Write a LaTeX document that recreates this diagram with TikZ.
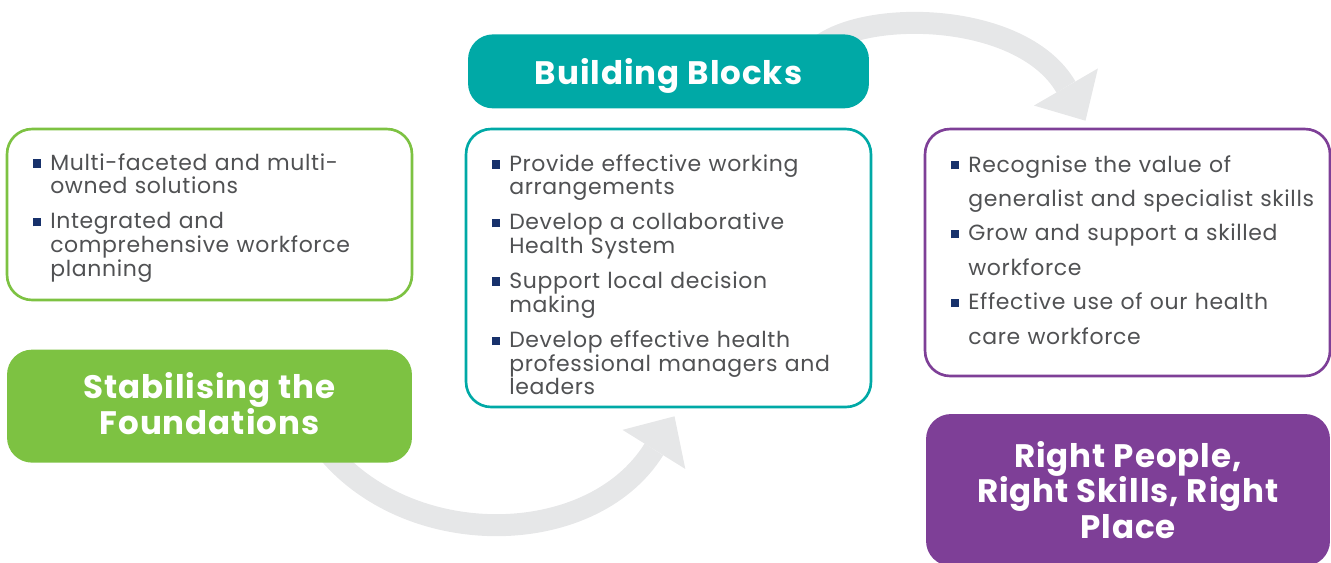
\documentclass[tikz,border=0pt]{standalone}
\usepackage{fontspec}
\setmainfont{Poppins}
\usetikzlibrary{arrows.meta, calc, positioning, backgrounds}
\definecolor{fgreen}{HTML}{7DC242}
\definecolor{bteal}{HTML}{00A9A6}
\definecolor{rpurple}{HTML}{7E3F97}
\definecolor{arrowgray}{HTML}{E6E7E8}
\definecolor{textgray}{HTML}{505153}
\definecolor{bulletblue}{HTML}{17316B}
\newcommand{\sq}{\textcolor{bulletblue}{\rule[1.5pt]{4.8pt}{4.8pt}}}
\tikzstyle{listbox} = [rectangle, rounded corners=0.5cm, line width=1.5pt, fill=white, minimum width=8.1cm, text width=7.06cm, inner xsep=0.52cm, align=left, text=textgray, font=\fontsize{12.5}{13}\selectfont\addfontfeature{LetterSpace=3}]
\tikzstyle{headbox} = [rectangle, rounded corners=0.5cm, text=white, align=center, font=\bfseries\fontsize{18.5}{20.4}\selectfont\addfontfeature{LetterSpace=3}]
\tikzstyle{arrow} = [arrowgray, line width=0.44cm, -{Triangle[width=1.48cm, length=0.78cm, line width=0pt]}]

\begin{document}
\begin{tikzpicture}[x=0.02cm, y=-0.02cm]
    \useasboundingbox (0,0) rectangle (1331,562);
    \clip (0,0) rectangle (1331,562);

    \node (foundlist) [listbox, draw=fgreen, minimum height=3.42cm] at (209.5,214.5) {%
      \vspace*{-0.15cm}\noindent
      \begin{tabular}{@{}l@{\hspace{5pt}}l@{}}
      \sq & Multi-faceted and multi-\\
          & owned solutions\\[6.8pt]
      \sq & Integrated and\\
          & comprehensive workforce\\
          & planning
      \end{tabular}};
    \node (found) [headbox, fill=fgreen, minimum width=8.1cm, minimum height=2.26cm, below=0.96cm of foundlist] {Stabilising the\\Foundations\rule[-3pt]{0pt}{0pt}};

    \node (buildlist) [listbox, draw=bteal, minimum height=5.56cm] at (668.5,268) {%
      \vspace*{-0.4cm}\noindent
      \begin{tabular}{@{}l@{\hspace{5pt}}l@{}}
      \sq & Provide effective working\\
          & arrangements\\[6.8pt]
      \sq & Develop a collaborative\\
          & Health System\\[6.8pt]
      \sq & Support local decision\\
          & making\\[6.8pt]
      \sq & Develop effective health\\
          & professional managers and\\
          & leaders
      \end{tabular}};
    \node (buildhead) [headbox, fill=bteal, minimum width=8.02cm, minimum height=1.48cm, text depth=0pt, above=0.38cm of buildlist] {Building Blocks};

    \node (rightlist) [listbox, draw=rpurple, minimum height=4.94cm, font=\fontsize{12.5}{19.6}\selectfont\addfontfeature{LetterSpace=3}] at (1127.5,252.5) {%
      \vspace*{0.05cm}\noindent
      \begin{tabular}{@{}l@{\hspace{5pt}}l@{}}
      \sq & Recognise the value of\\
          & generalist and specialist skills\\
      \sq & Grow and support a skilled\\
          & workforce\\
      \sq & Effective use of our health\\
          & care workforce
      \end{tabular}};
    \node (right) [headbox, fill=rpurple, minimum width=8.08cm, minimum height=3.04cm] at (1128,490) {Right People,\\Right Skills, Right\\Place};

    % curved arrows behind the boxes
    \begin{scope}[on background layer]
    \draw [arrow] ($(found.south east)+(-92,-21)$) .. controls +(80,110) and +(-84,135) .. ($(buildlist.south)+(6,8)$);
    \draw [arrow] ($(buildhead.north east)+(-57,19)$) .. controls +(40,-45) and +(-65,-112) .. ($(rightlist.north)+(-42,-7)$);
    \end{scope}
\end{tikzpicture}
\end{document}
